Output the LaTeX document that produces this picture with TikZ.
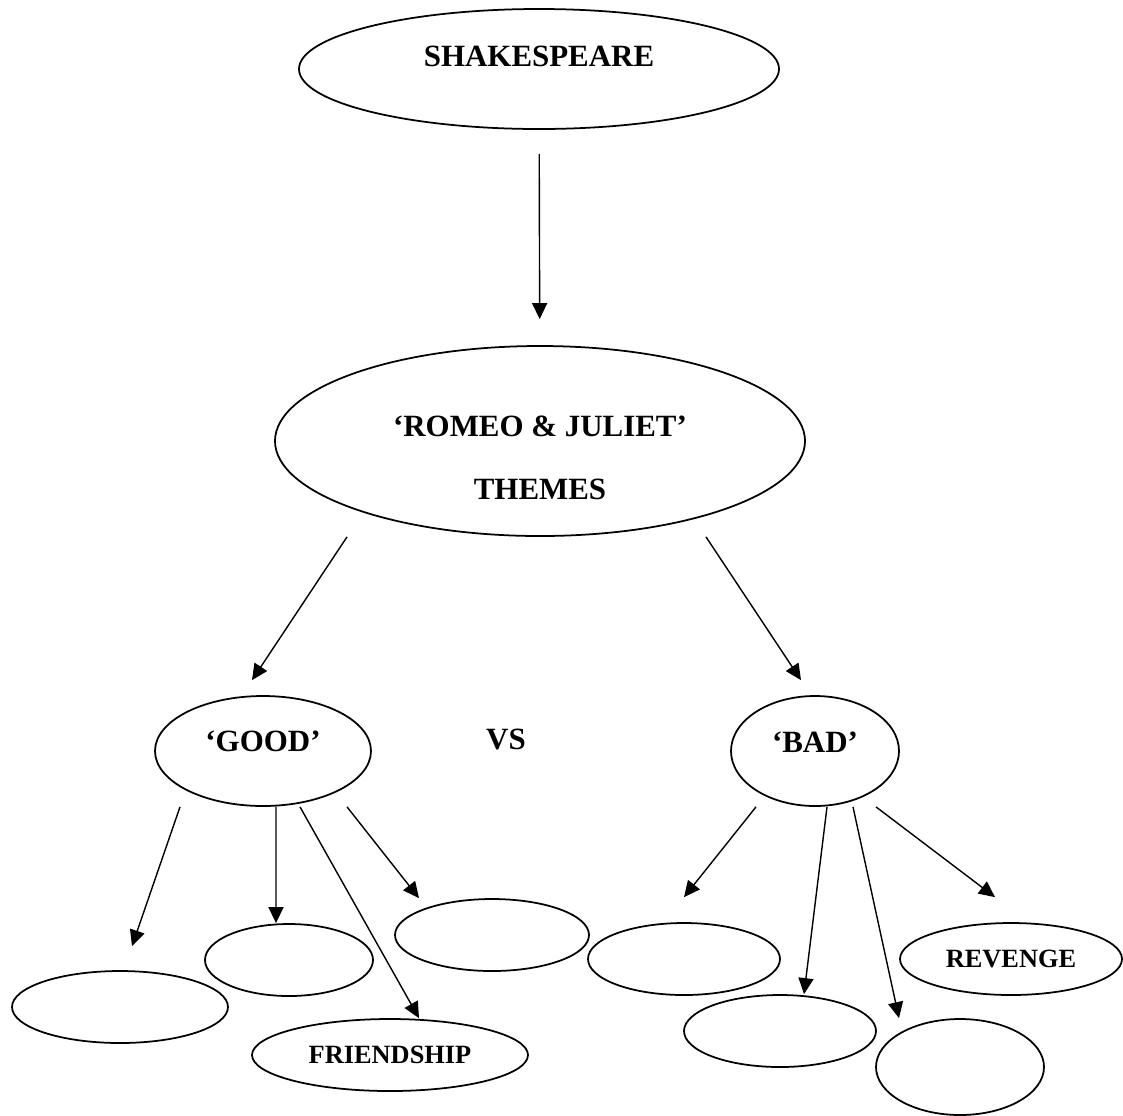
\documentclass[tikz,border=0pt]{standalone}
\usepackage{fontspec}
\setmainfont{Liberation Serif}
\usetikzlibrary{shapes.geometric,arrows.meta}

\begin{document}
\begin{tikzpicture}[
    oval/.style={ellipse, draw, line width=1pt, inner sep=0pt},
    big/.style={font=\bfseries\fontsize{17.6}{36}\selectfont, align=center},
    small/.style={font=\bfseries\fontsize{15}{17}\selectfont},
    arr/.style={-{Triangle[length=3.2mm, width=3mm]}, line width=0.8pt}
]
    \useasboundingbox (0,0) rectangle (22.46,-22.3);

    % top of the tree
    \node[oval, minimum width=9.6cm, minimum height=2.4cm,
          label={[big, yshift=0.26cm]center:SHAKESPEARE}] (shk) at (10.78,-1.38) {};
    \node[oval, minimum width=10.6cm, minimum height=3.8cm,
          label={[big, yshift=-0.34cm]center:‘ROMEO \& JULIET’\\THEMES}] (rj) at (10.8,-8.82) {};

    % good vs bad
    \node[oval, minimum width=4.32cm, minimum height=2.2cm,
          label={[big, yshift=0.2cm]center:‘GOOD’}] (good) at (5.26,-15.02) {};
    \node[big] (vs) at (10.12,-14.78) {VS};
    \node[oval, minimum width=3.36cm, minimum height=2.2cm,
          label={[big, yshift=0.18cm]center:‘BAD’}] (bad) at (16.3,-15.02) {};

    % themes under 'good'
    \node[oval, minimum width=4.32cm, minimum height=1.44cm] (goodA) at (2.4,-20.14) {};
    \node[oval, minimum width=3.36cm, minimum height=1.44cm] (goodB) at (5.78,-19.2) {};
    \node[oval, small, minimum width=5.52cm, minimum height=1.44cm] (friend) at (7.8,-21.1) {FRIENDSHIP};
    \node[oval, minimum width=3.88cm, minimum height=1.44cm] (goodC) at (9.84,-18.7) {};

    % themes under 'bad'
    \node[oval, minimum width=3.84cm, minimum height=1.44cm] (badA) at (13.68,-19.18) {};
    \node[oval, minimum width=3.84cm, minimum height=1.44cm] (badB) at (15.6,-20.62) {};
    \node[oval, minimum width=3.36cm, minimum height=1.92cm] (badC) at (19.2,-21.34) {};
    \node[oval, small, minimum width=4.44cm, minimum height=1.44cm] (revenge) at (20.22,-19.18) {REVENGE};

    % arrows
    \draw[arr, shorten <=0.48cm, shorten >=0.52cm] (shk) -- (rj);
    \draw[arr] ([xshift=-3.86cm]rj.south) -- ([xshift=-0.22cm, yshift=0.3cm]good.north);
    \draw[arr] ([xshift=3.32cm]rj.south) -- ([xshift=-0.28cm, yshift=0.3cm]bad.north);

    \draw[arr] ([xshift=-1.66cm]good.south) -- ([xshift=0.24cm, yshift=0.48cm]goodA.north);
    \draw[arr] ([xshift=0.26cm]good.south) -- ([xshift=-0.26cm]goodB.north);
    \draw[arr] ([xshift=0.74cm]good.south) -- ([xshift=0.58cm]friend.north);
    \draw[arr] ([xshift=1.68cm]good.south) -- ([xshift=-1.46cm]goodC.north);

    \draw[arr] ([xshift=-1.18cm]bad.south) -- ([yshift=0.5cm]badA.north);
    \draw[arr] ([xshift=0.24cm]bad.south) -- ([xshift=0.48cm]badB.north);
    \draw[arr] ([xshift=0.76cm]bad.south) -- ([xshift=-1.22cm]badC.north);
    \draw[arr] ([xshift=1.22cm]bad.south) -- ([xshift=-0.32cm, yshift=0.5cm]revenge.north);
\end{tikzpicture}
\end{document}
